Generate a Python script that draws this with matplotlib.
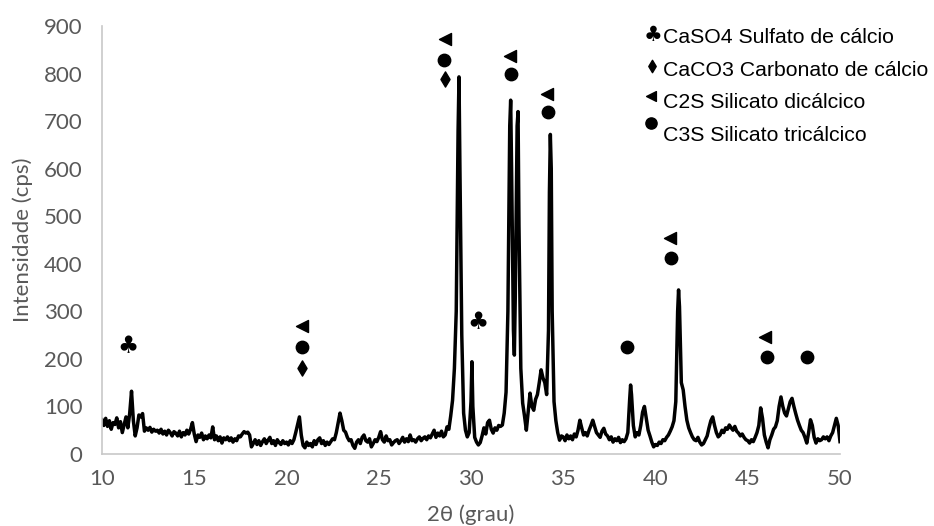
import numpy as np
import matplotlib.pyplot as plt

# XRD pattern, intensity every 0.1 deg from 10.0 to 50.0
two_theta = np.round(np.arange(10.0, 50.05, 0.1), 2)
intensity = [
    72, 60, 75, 58, 70, 52, 66, 62, 76, 55,      # 10
    68, 45, 62, 78, 55, 85, 132, 70, 38, 55,     # 11
    82, 78, 85, 48, 55, 50, 56, 46, 52, 48,      # 12
    50, 44, 52, 42, 48, 40, 50, 45, 38, 47,      # 13
    44, 38, 48, 36, 45, 40, 50, 42, 52, 66,      # 14
    42, 26, 40, 35, 44, 30, 38, 32, 40, 34,      # 15
    57, 30, 38, 28, 36, 23, 34, 30, 36, 28,      # 16
    34, 25, 32, 28, 38, 36, 42, 47, 44, 46,      # 17
    40, 15, 22, 30, 20, 28, 18, 26, 32, 22,      # 18
    29, 35, 22, 28, 18, 30, 24, 20, 28, 22,      # 19
    25, 19, 28, 22, 30, 45, 62, 78, 40, 18,      # 20
    13, 25, 18, 22, 15, 28, 20, 30, 34, 22,      # 21
    28, 18, 25, 20, 26, 32, 30, 45, 65, 86,      # 22
    70, 50, 46, 35, 28, 30, 18, 12, 25, 30,      # 23
    22, 35, 40, 28, 25, 32, 15, 22, 30, 26,      # 24
    35, 47, 30, 25, 38, 28, 30, 19, 24, 28,      # 25
    30, 22, 28, 35, 25, 32, 26, 40, 28, 30,      # 26
    25, 32, 36, 28, 33, 36, 30, 38, 34, 42,      # 27
    50, 35, 44, 38, 48, 36, 40, 57, 52, 80,      # 28
    113, 180, 300, 680, 600, 250, 86, 50, 36, 45,  # 29
    110, 100, 35, 25, 19, 24, 38, 55, 42, 66,    # 30
    71, 52, 44, 55, 50, 60, 58, 61, 86, 130,     # 31
    300, 690, 600, 260, 330, 690, 480, 180, 107, 80,  # 32
    50, 90, 128, 100, 92, 115, 125, 150, 177, 160,    # 33
    150, 125, 260, 672, 300, 110, 70, 45, 29, 38,     # 34
    36, 28, 40, 32, 38, 30, 42, 36, 50, 71,      # 35
    55, 40, 45, 38, 50, 60, 71, 58, 45, 40,      # 36
    35, 48, 54, 42, 38, 30, 36, 25, 32, 28,      # 37
    35, 24, 30, 26, 32, 45, 115, 125, 60, 36,    # 38
    45, 40, 60, 88, 100, 75, 50, 38, 25, 15,     # 39
    20, 18, 25, 22, 30, 28, 35, 40, 48, 57,      # 40
    70, 110, 300, 310, 150, 135, 100, 71, 55, 45,  # 41
    36, 30, 28, 35, 25, 19, 22, 30, 38, 55,      # 42
    70, 78, 60, 45, 36, 40, 50, 45, 55, 52,      # 43
    61, 55, 50, 58, 48, 44, 38, 42, 35, 30,      # 44
    28, 23, 30, 26, 35, 45, 60, 97, 75, 40,      # 45
    25, 13, 30, 40, 52, 57, 70, 100, 120, 100,   # 46
    86, 80, 95, 110, 117, 100, 85, 71, 60, 50,   # 47
    45, 35, 23, 45, 72, 60, 35, 23, 32, 28,      # 48
    30, 36, 32, 36, 28, 38, 45, 60, 75, 60,      # 49
    26,                                          # 50
]

# extra points on the sharp peak tops
peak_x = [29.35, 30.05, 32.15, 32.35, 32.55, 34.25, 34.35, 38.65, 41.25]
peak_y = [793, 194, 744, 208, 720, 550, 600, 145, 345]

# phase markers above peaks
caso4_x = [11.43, 30.4]
caso4_y = [226, 278]
caco3_x = [20.82, 28.59]
caco3_y = [180, 789]
c2s_x = [20.82, 28.59, 32.11, 34.14, 40.79, 45.93]
c2s_y = [269, 872, 837, 757, 454, 247]
c3s_x = [20.82, 28.55, 32.15, 34.2, 38.44, 40.85, 46.02, 48.19]
c3s_y = [224, 828, 800, 720, 226, 412, 203, 203]

legend_labels = ["CaSO4 Sulfato de cálcio", "CaCO3 Carbonato de cálcio",
                 "C2S Silicato dicálcico", "C3S Silicato tricálcico"]

x_all = np.concatenate([two_theta, peak_x])
y_all = np.concatenate([intensity, peak_y])
order = np.argsort(x_all, kind="stable")

fig = plt.figure(figsize=(9.34, 5.26), dpi=100)
ax = fig.add_axes([102/934, 72/526, 738/934, 428/526])

ax.plot(x_all[order], y_all[order], color="black", lw=2.5, solid_joinstyle="round")

ax.scatter(caco3_x, caco3_y, marker="d", s=60, color="black", zorder=3)
ax.scatter(c2s_x, c2s_y, marker="<", s=75, color="black", zorder=3)
ax.scatter(c3s_x, c3s_y, marker="o", s=80, color="black", zorder=3)
for xx, yy in zip(caso4_x, caso4_y):
    ax.text(xx, yy, "\u2663", fontsize=17, ha="center", va="center",
            family="DejaVu Sans")

ax.set_xlim(10, 50)
ax.set_ylim(0, 900)
ax.set_xticks(range(10, 51, 5))
ax.set_yticks(range(0, 901, 100))
ax.tick_params(length=0, labelsize=16, labelcolor="#595959")
ax.tick_params(axis="y", pad=14)
ax.tick_params(axis="x", pad=11)
for lab in ax.get_xticklabels() + ax.get_yticklabels():
    lab.set_family("Lato")
for s in ["top", "right"]:
    ax.spines[s].set_visible(False)
for s in ["left", "bottom"]:
    ax.spines[s].set_color("#c8c8c8")
    ax.spines[s].set_linewidth(1.2)

ax.set_ylabel("Intensidade (cps)", fontsize=16, color="#595959", family="Lato",
              labelpad=8)
ax.set_xlabel("2θ (grau)", fontsize=16, color="#595959", family="Lato", labelpad=11)

# legend drawn as text with symbols
leg_y = [0.974, 0.897, 0.822, 0.743]
for lab, yy in zip(legend_labels, leg_y):
    ax.text(0.760, yy, lab, transform=ax.transAxes, fontsize=15.3,
            family="Liberation Sans", va="center", ha="left", color="black")
ax.text(0.747, 0.980, "\u2663", transform=ax.transAxes, fontsize=15,
        family="DejaVu Sans", ha="center", va="center")
ax.scatter([0.745], [0.907], marker="d", s=40, color="black",
           transform=ax.transAxes, clip_on=False)
ax.scatter([0.744], [0.836], marker="<", s=50, color="black",
           transform=ax.transAxes, clip_on=False)
ax.scatter([0.744], [0.773], marker="o", s=65, color="black",
           transform=ax.transAxes, clip_on=False)

fig.savefig("out.png", dpi=100)
